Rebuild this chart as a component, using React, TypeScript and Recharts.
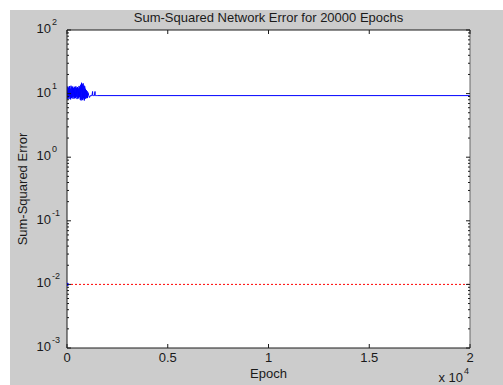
import React from 'react';
import { ComposedChart, Line, Scatter, XAxis, YAxis, CartesianGrid } from 'recharts';

const epochs = [
  0, 20, 40, 60, 80, 100, 120, 140, 160, 180, 200, 220, 240, 260, 280, 300, 320, 340, 360, 380, 400,
  420, 440, 460, 480, 500, 520, 540, 560, 580, 600, 620, 640,
  660, 680, 700, 720, 740, 760, 780, 800, 820, 840, 860, 880, 900,
  920, 940, 960, 980, 1000, 1020, 1040,
  1080, 1120, 1160, 1200, 1240, 1270, 1280, 1290, 1320, 1360, 1390, 1400, 1410, 1450, 1500, 20000,
];
const sse = [
  10.8, 8.3, 12.9, 8.6, 12.4, 8.2, 13.1, 8.8, 12.0, 8.1, 13.3, 8.5, 12.6, 8.7, 12.9, 8.3, 12.2, 8.9, 12.8, 8.4, 12.5,
  8.5, 13.0, 8.9, 12.3, 8.2, 12.7, 8.6, 12.1, 8.4, 13.2, 8.8, 12.6,
  8.0, 13.8, 7.8, 14.8, 8.2, 14.0, 7.9, 14.5, 8.4, 13.4, 7.8, 13.0, 8.3,
  11.9, 8.4, 11.3, 8.6, 10.9, 8.5, 10.4,
  9.3, 8.7, 9.3, 9.3, 9.3, 10.8, 9.3, 9.3, 9.3, 9.3, 10.8, 9.3, 9.3, 9.3, 9.3, 9.3,
];
const goalEpochs = [0, 20000];
const goalValues = [0.01, 0.01];

const xTicks = [0, 5000, 10000, 15000, 20000];
const xTickLabels = ['0', '0.5', '1', '1.5', '2'];
const yDecades = [0.001, 0.01, 0.1, 1, 10, 100];
const yMinorSteps = [2, 3, 4, 5, 6, 7, 8, 9];

const errorData = epochs.map((e, i) => ({ epoch: e, err: sse[i] }));
const goalData = goalEpochs.map((e, i) => ({ epoch: e, goal: goalValues[i] }));
const startMark = [{ epoch: 0, err: 0.01 }];

const yTicks: number[] = [];
yDecades.forEach((d, i) => {
  yTicks.push(d);
  if (i < yDecades.length - 1) yMinorSteps.forEach((m) => yTicks.push(d * m));
});

const FONT = '"Liberation Sans", Arial, sans-serif';
const INK = '#1a1a1a';

const isDecade = (v: number) => Math.abs(Math.log10(v) - Math.round(Math.log10(v))) < 1e-6;

function BottomTick({ x, y, payload }: any) {
  const i = xTicks.indexOf(payload.value);
  return (
    <g>
      <line x1={x} y1={y} x2={x} y2={y - 4} stroke={INK} />
      <text x={x} y={y + 14} textAnchor="middle" fontSize={13} fontFamily={FONT} fill={INK}>
        {xTickLabels[i]}
      </text>
    </g>
  );
}

function TopTick({ x, y }: any) {
  return <line x1={x} y1={y} x2={x} y2={y + 4} stroke={INK} />;
}

function LeftTick({ x, y, payload }: any) {
  const v = payload.value;
  const major = isDecade(v);
  return (
    <g>
      <line x1={x} y1={y} x2={x + (major ? 4 : 2)} y2={y} stroke={INK} />
      {major && (
        <g fontFamily={FONT} fill={INK}>
          <text x={x - 16} y={y + 3} textAnchor="end" fontSize={13}>10</text>
          <text x={x - 15} y={y - 5} textAnchor="start" fontSize={9}>{Math.round(Math.log10(v))}</text>
        </g>
      )}
    </g>
  );
}

function RightTick({ x, y, payload }: any) {
  const major = isDecade(payload.value);
  return <line x1={x} y1={y} x2={x - (major ? 4 : 2)} y2={y} stroke={INK} />;
}

const axisCommon = {
  type: 'number' as const,
  interval: 0 as const,
  tickSize: 0,
  tickMargin: 0,
  tickLine: false,
  mirror: true,
  allowDataOverflow: true,
};

export default function App() {
  return (
    <div style={{ position: 'absolute', left: 0, top: 0, width: 503, height: 385, background: '#ffffff' }}>
      <div style={{ position: 'absolute', left: 10, top: 10, width: 493, height: 375, background: '#cccccc' }} />
      <div style={{ position: 'absolute', left: 0, top: 0 }}>
        <ComposedChart width={503} height={385} margin={{ top: 30, right: 33, bottom: 37, left: 67 }}>
          <CartesianGrid fill="#ffffff" horizontal={false} vertical={false} stroke="none" />
          <XAxis
            {...axisCommon}
            xAxisId="b"
            dataKey="epoch"
            domain={[0, 20000]}
            ticks={xTicks}
            height={10}
            axisLine={{ stroke: INK }}
            tick={<BottomTick />}
          />
          <XAxis
            {...axisCommon}
            xAxisId="t"
            orientation="top"
            dataKey="epoch"
            domain={[0, 20000]}
            ticks={xTicks}
            height={10}
            axisLine={{ stroke: INK }}
            tick={<TopTick />}
          />
          <YAxis
            {...axisCommon}
            yAxisId="l"
            scale="log"
            domain={[0.001, 100]}
            ticks={yTicks}
            width={10}
            axisLine={{ stroke: INK }}
            tick={<LeftTick />}
          />
          <YAxis
            {...axisCommon}
            yAxisId="r"
            orientation="right"
            scale="log"
            domain={[0.001, 100]}
            ticks={yTicks}
            width={10}
            axisLine={{ stroke: '#666666' }}
            tick={<RightTick />}
          />
          <Line
            xAxisId="b"
            yAxisId="l"
            data={goalData}
            dataKey="goal"
            type="linear"
            stroke="#ff0000"
            strokeWidth={1}
            strokeDasharray="2 2"
            dot={false}
            isAnimationActive={false}
          />
          <Line
            xAxisId="b"
            yAxisId="l"
            data={errorData}
            dataKey="err"
            type="linear"
            stroke="#0000ff"
            strokeWidth={1}
            dot={false}
            isAnimationActive={false}
          />
          <Scatter
            xAxisId="b"
            yAxisId="l"
            data={startMark}
            dataKey="err"
            fill="#0000ff"
            isAnimationActive={false}
            shape={(p: any) => <rect x={p.cx - 1} y={p.cy - 1.5} width={2.5} height={3} fill="#0000ff" />}
          />
          <text x={268.5} y={22} textAnchor="middle" fontSize={13} fontFamily={FONT} fill={INK}>
            Sum-Squared Network Error for 20000 Epochs
          </text>
          <text x={268.5} y={378} textAnchor="middle" fontSize={13} fontFamily={FONT} fill={INK}>
            Epoch
          </text>
          <text
            x={27}
            y={189}
            textAnchor="middle"
            fontSize={13}
            fontFamily={FONT}
            fill={INK}
            transform="rotate(-90, 27, 189)"
          >
            Sum-Squared Error
          </text>
          <text x={463} y={382} textAnchor="end" fontSize={13} fontFamily={FONT} fill={INK}>
            x 10
          </text>
          <text x={464} y={374} textAnchor="start" fontSize={9} fontFamily={FONT} fill={INK}>
            4
          </text>
        </ComposedChart>
      </div>
    </div>
  );
}
